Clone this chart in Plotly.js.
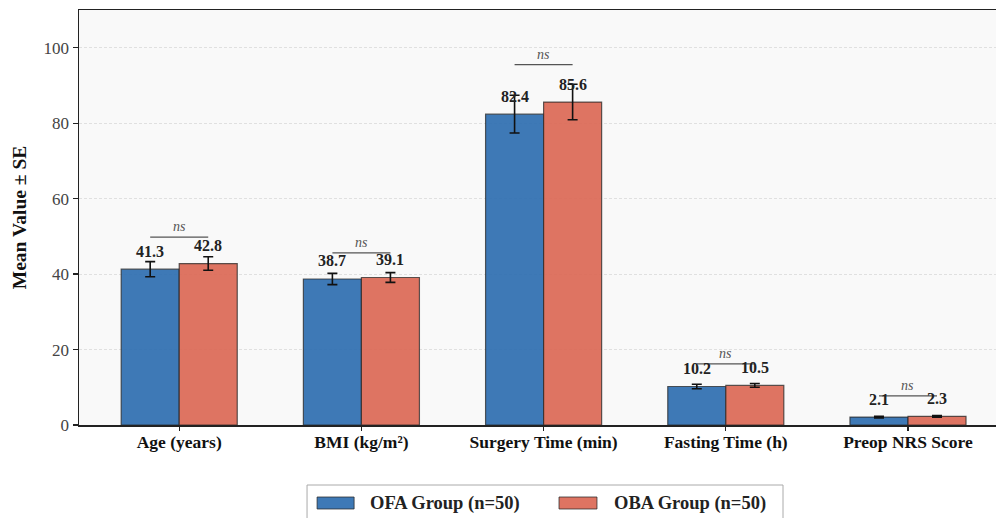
<!DOCTYPE html>
<html>
<head>
<meta charset="utf-8">
<script src="https://cdn.plot.ly/plotly-3.0.1.min.js"></script>
<style>
html,body{margin:0;padding:0;overflow:hidden;background:#fff;}
#chart{width:1000px;height:518px;}
</style>
</head>
<body>
<div id="chart"></div>
<script>
const categories = ['Age (years)', 'BMI (kg/m²)', 'Surgery Time (min)', 'Fasting Time (h)', 'Preop NRS Score'];
const ofaMean = [41.3, 38.7, 82.4, 10.2, 2.1];
const ofaSE = [2.0, 1.5, 5.0, 0.6, 0.2];
const obaMean = [42.8, 39.1, 85.6, 10.5, 2.3];
const obaSE = [1.8, 1.3, 4.7, 0.5, 0.2];
const sigLabels = ['ns', 'ns', 'ns', 'ns', 'ns'];
const seriesNames = ['OFA Group (n=50)', 'OBA Group (n=50)'];
const yTicks = [0, 20, 40, 60, 80, 100];

const blue = 'rgba(46,110,176,0.92)';
const red = 'rgba(219,104,85,0.92)';
const edge = 'rgba(40,40,40,0.75)';
const serif = '"Liberation Serif", "Times New Roman", serif';

const bargap = 0.363;
const half = (1 - bargap) / 4;

const traces = [
  {
    type: 'bar', name: seriesNames[0], x: categories, y: ofaMean,
    marker: {color: blue, line: {color: edge, width: 1.2}},
    error_y: {type: 'data', array: ofaSE, visible: true, color: '#111', thickness: 1.6, width: 5}
  },
  {
    type: 'bar', name: seriesNames[1], x: categories, y: obaMean,
    marker: {color: red, line: {color: edge, width: 1.2}},
    error_y: {type: 'data', array: obaSE, visible: true, color: '#111', thickness: 1.6, width: 5}
  }
];

const annotations = [];
const shapes = [];
categories.forEach((c, i) => {
  annotations.push({x: i - half, y: ofaMean[i] + 2.0, xref: 'x', yref: 'y', text: ofaMean[i].toFixed(1),
    showarrow: false, yanchor: 'bottom', font: {family: serif, size: 16, color: '#222', weight: 'bold'}});
  annotations.push({x: i + half, y: obaMean[i] + 2.0, xref: 'x', yref: 'y', text: obaMean[i].toFixed(1),
    showarrow: false, yanchor: 'bottom', font: {family: serif, size: 16, color: '#222', weight: 'bold'}});
  const top = Math.max(ofaMean[i] + ofaSE[i], obaMean[i] + obaSE[i]) + 5.2;
  shapes.push({type: 'line', xref: 'x', yref: 'y', x0: i - half, x1: i + half, y0: top, y1: top,
    line: {color: '#555', width: 1.2}});
  annotations.push({x: i, y: top, xref: 'x', yref: 'y', text: sigLabels[i], showarrow: false,
    yanchor: 'bottom', yshift: 1, font: {family: serif, size: 14, color: '#555', style: 'italic'}});
});

// custom legend (paper coords)
shapes.push({type: 'rect', xref: 'paper', yref: 'paper', x0: 0.2476, x1: 0.7644, y0: -0.1446, y1: -0.25,
  line: {color: '#aaa', width: 1}, fillcolor: '#fff'});
shapes.push({type: 'rect', xref: 'paper', yref: 'paper', x0: 0.2585, x1: 0.2987, y0: -0.1735, y1: -0.2024,
  line: {color: edge, width: 1}, fillcolor: blue});
shapes.push({type: 'rect', xref: 'paper', yref: 'paper', x0: 0.5212, x1: 0.5624, y0: -0.1735, y1: -0.2024,
  line: {color: edge, width: 1}, fillcolor: red});
annotations.push({xref: 'paper', yref: 'paper', x: 0.3140, y: -0.188, xanchor: 'left', yanchor: 'middle',
  text: seriesNames[0], showarrow: false, font: {family: serif, size: 18.5, color: '#222', weight: 'bold'}});
annotations.push({xref: 'paper', yref: 'paper', x: 0.5785, y: -0.188, xanchor: 'left', yanchor: 'middle',
  text: seriesNames[1], showarrow: false, font: {family: serif, size: 18.5, color: '#222', weight: 'bold'}});

const layout = {
  width: 1000, height: 518,
  margin: {l: 79, r: 0, t: 10, b: 93},
  paper_bgcolor: '#ffffff',
  plot_bgcolor: '#f9f9f9',
  barmode: 'group', bargap: bargap, bargroupgap: 0,
  showlegend: false,
  xaxis: {
    type: 'category', range: [-0.55, 4.505],
    showline: true, linecolor: '#222', linewidth: 1.5, mirror: true,
    ticks: 'outside', ticklen: 4, tickcolor: '#222', tickwidth: 1.2,
    ticklabelstandoff: -4,
    showgrid: false, zeroline: false,
    tickfont: {family: serif, size: 17.5, color: '#111', weight: 'bold'}
  },
  yaxis: {
    range: [0, 110], tickvals: yTicks,
    showline: true, linecolor: '#222', linewidth: 1.5,
    ticks: 'outside', ticklen: 5, tickcolor: '#222', tickwidth: 1.2,
    showgrid: true, gridcolor: '#d9d9d9', griddash: '3px,2px', gridwidth: 0.8,
    zeroline: false,
    tickfont: {family: serif, size: 17, color: '#444'},
    title: {text: 'Mean Value ± SE', standoff: 12, font: {family: serif, size: 19.5, color: '#111', weight: 'bold'}}
  },
  annotations: annotations,
  shapes: shapes
};

Plotly.newPlot('chart', traces, layout, {displayModeBar: false, staticPlot: true});
</script>
</body>
</html>
